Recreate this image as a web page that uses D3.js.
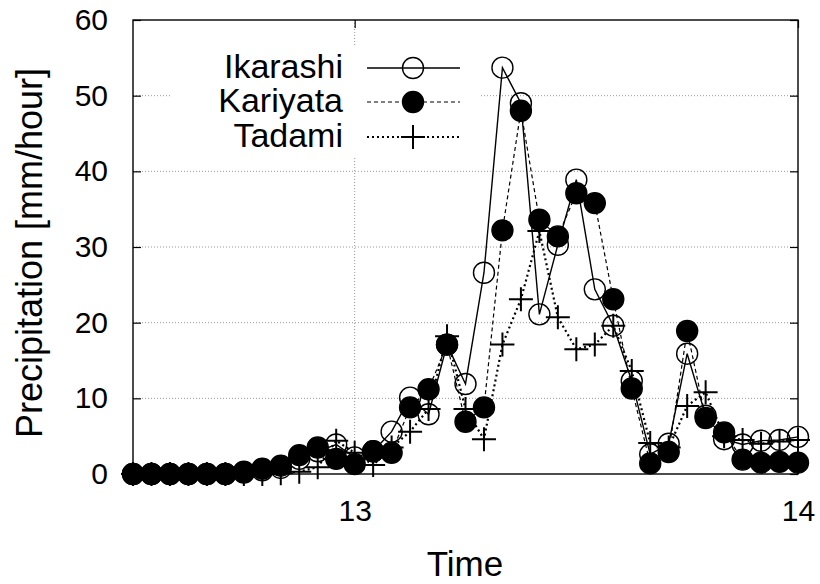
<!DOCTYPE html>
<html>
<head>
<meta charset="utf-8">
<script src="https://cdn.jsdelivr.net/npm/d3@7"></script>
<style>
  body { margin: 0; background: #fff; }
  svg text { font-family: "Liberation Sans", Arial, sans-serif; fill: #000; }
</style>
</head>
<body>
<div class="canvas"></div>
<script>
// hours since start of day 12 (12:00 on the 12th .. 24:00 on the 13th)
const hours = [12, 13, 14, 15, 16, 17, 18, 19, 20, 21, 22, 23, 24, 25, 26, 27, 28, 29,
  30, 31, 32, 33, 34, 35, 36, 37, 38, 39, 40, 41, 42, 43, 44, 45, 46, 47, 48]

const ikarashi = [0, 0, 0, 0, 0, 0, 0.2, 0.5, 0.8, 2.0, 3.0, 3.9, 2.2, 3.0, 5.6, 10.1, 7.9, 17.1,
  11.9, 26.6, 53.7, 49.0, 21.1, 30.3, 38.9, 24.4, 19.6, 12.3, 2.6, 4.0, 15.9, 7.7, 4.6, 3.9, 4.4, 4.5, 4.9]
const kariyata = [0, 0, 0, 0, 0, 0, 0.3, 0.7, 1.1, 2.5, 3.5, 2.0, 1.3, 3.0, 2.8, 8.8, 11.2, 17.1,
  6.9, 8.8, 32.2, 48.0, 33.6, 31.4, 37.1, 35.8, 23.1, 11.3, 1.4, 2.9, 18.9, 7.4, 5.5, 1.9, 1.5, 1.6, 1.5]
const tadami = [0, 0, 0, 0, 0, 0, 0, 0, 0.1, 0.3, 0.9, 4.4, 2.8, 1.2, 3.5, 5.6, 8.6, 18.2,
  8.6, 4.6, 17.1, 23.1, 32.1, 20.7, 16.5, 17.1, 19.6, 13.6, 4.1, 3.5, 9.0, 10.8, 5.0, 4.5, 4.0, 4.3, 4.5]

const xTicks = [24, 48]
const xTickLabels = ['13', '14']
const yTicks = [0, 10, 20, 30, 40, 50, 60]
const seriesNames = ['Ikarashi', 'Kariyata', 'Tadami']

const svg = d3.select('.canvas')
    .append('svg')
    .attr('width', 820)
    .attr('height', 584)

const margin = {top: 20, right: 22, bottom: 110, left: 133}
const graphWidth = 820 - margin.left - margin.right
const graphHeight = 584 - margin.top - margin.bottom

const graph = svg.append('g')
    .attr('transform', `translate(${margin.left}, ${margin.top})`)

const x = d3.scaleLinear()
    .domain([12, 48])
    .range([0, graphWidth])
const y = d3.scaleLinear()
    .domain([0, 60])
    .range([graphHeight, 0])

// dotted grid
graph.append('g')
    .selectAll('line')
    .data(yTicks.filter(d => d > 0 && d < 60))
    .enter().append('line')
    .attr('x1', 0).attr('x2', graphWidth)
    .attr('y1', d => y(d)).attr('y2', d => y(d))
    .attr('stroke', '#999').attr('stroke-width', 1).attr('stroke-dasharray', '1,2')
graph.append('g')
    .selectAll('line')
    .data(xTicks.filter(d => d < 48))
    .enter().append('line')
    .attr('x1', d => x(d)).attr('x2', d => x(d))
    .attr('y1', 0).attr('y2', graphHeight)
    .attr('stroke', '#999').attr('stroke-width', 1).attr('stroke-dasharray', '1,2')

// axes: ticks pointing inward, mirrored on the other sides
const tickLen = 8
const yAxis = d3.axisLeft(y).tickValues(yTicks).tickSizeInner(-tickLen).tickSizeOuter(0).tickPadding(25)
const yAxisRight = d3.axisRight(y).tickValues(yTicks).tickSizeInner(-tickLen).tickSizeOuter(0).tickFormat('')
const xAxis = d3.axisBottom(x).tickValues(xTicks).tickFormat((d, i) => xTickLabels[i])
    .tickSizeInner(-tickLen).tickSizeOuter(0).tickPadding(26)
const xAxisTop = d3.axisTop(x).tickValues(xTicks).tickSizeInner(-tickLen).tickSizeOuter(0).tickFormat('')

graph.append('g').call(yAxis)
graph.append('g').attr('transform', `translate(${graphWidth}, 0)`).call(yAxisRight)
graph.append('g').attr('transform', `translate(0, ${graphHeight})`).call(xAxis)
graph.append('g').call(xAxisTop)

graph.selectAll('.domain').remove()
graph.selectAll('.tick line').attr('stroke', '#000').attr('stroke-width', 1.2)
graph.selectAll('.tick text').style('font-size', '30px').style('font-family', '"Liberation Sans", Arial, sans-serif')

graph.append('rect')
    .attr('width', graphWidth).attr('height', graphHeight)
    .attr('fill', 'none').attr('stroke', '#000').attr('stroke-width', 1.4)

// legend backdrop hides the grid behind the key
graph.append('rect')
    .attr('x', 39).attr('y', 27).attr('width', 309).attr('height', 110)
    .attr('fill', '#fff')

const styles = [
    {data: ikarashi, dash: null, width: 1.4, marker: 'open'},
    {data: kariyata, dash: '4,3', width: 1.2, marker: 'filled'},
    {data: tadami, dash: '2,3', width: 2.2, marker: 'plus'}
]

const line = d3.line()
    .x((d, i) => x(hours[i]))
    .y(d => y(d))

const r = 10.5
const plus = 12

function drawMarkers(g, pts, marker) {
    if (marker === 'plus') {
        g.selectAll('path.m').data(pts).enter().append('path')
            .attr('d', d => `M${d[0] - plus},${d[1]}h${2 * plus}M${d[0]},${d[1] - plus}v${2 * plus}`)
            .attr('stroke', '#000').attr('stroke-width', 2).attr('fill', 'none')
    } else {
        g.selectAll('circle').data(pts).enter().append('circle')
            .attr('cx', d => d[0]).attr('cy', d => d[1]).attr('r', r)
            .attr('fill', marker === 'filled' ? '#000' : 'none')
            .attr('stroke', '#000').attr('stroke-width', 1.4)
    }
}

styles.forEach(s => {
    const g = graph.append('g')
    g.append('path')
        .attr('d', line(s.data))
        .attr('fill', 'none')
        .attr('stroke', '#000')
        .attr('stroke-width', s.width)
        .attr('stroke-dasharray', s.dash)
    drawMarkers(g, s.data.map((d, i) => [x(hours[i]), y(d)]), s.marker)
})

// legend
const legendRows = [48, 82, 117]
styles.forEach((s, i) => {
    const g = graph.append('g')
    g.append('text')
        .attr('x', 210).attr('y', legendRows[i] + 10)
        .attr('text-anchor', 'end')
        .style('font-size', '34px')
        .text(seriesNames[i])
    g.append('line')
        .attr('x1', 234).attr('x2', 327)
        .attr('y1', legendRows[i]).attr('y2', legendRows[i])
        .attr('stroke', '#000').attr('stroke-width', s.width)
        .attr('stroke-dasharray', s.dash)
    drawMarkers(g, [[280, legendRows[i]]], s.marker)
})

// axis titles
svg.append('text')
    .attr('x', 465).attr('y', 576)
    .attr('text-anchor', 'middle')
    .style('font-size', '35px')
    .text('Time')

svg.append('text')
    .attr('transform', 'translate(42, 253) rotate(-90)')
    .attr('text-anchor', 'middle')
    .style('font-size', '36px')
    .text('Precipitation [mm/hour]')
</script>
</body>
</html>
